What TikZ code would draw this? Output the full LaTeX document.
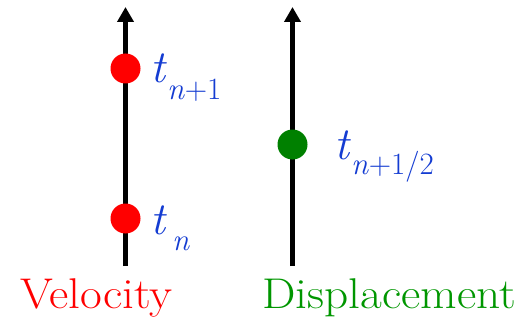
\documentclass[tikz,border=0pt]{standalone}
\usetikzlibrary{arrows.meta}
\definecolor{tblue}{RGB}{20,60,210}
\definecolor{dotred}{RGB}{255,0,0}
\definecolor{dotgreen}{RGB}{0,128,0}
\definecolor{labgreen}{RGB}{0,150,0}
\tikzset{
  axisline/.style={line width=5pt, -{Triangle[width=16pt,length=15pt]}},
  dot/.style={circle, inner sep=0pt, minimum size=30pt, fill=#1},
  tlab/.style={anchor=base west, inner sep=0pt, text=tblue, font=\fontsize{46}{50}\selectfont},
  caption/.style={anchor=base west, inner sep=0pt, font=\fontsize{43}{48}\selectfont}
}
\newcommand{\sublow}[2]{\raisebox{-#1}{\fontsize{31}{31}\selectfont #2}}
\begin{document}
\begin{tikzpicture}[x=1pt,y=-1pt]
\useasboundingbox (0,0) rectangle (528,321);
% axes
\coordinate (vb) at (125.5,266);
\coordinate (vt) at (125.5,7);
\coordinate (db) at (292.5,266);
\coordinate (dt) at (292.5,7);
\draw[axisline] (vb) -- (vt);
\draw[axisline] (db) -- (dt);
% dots
\node[dot=dotred] (v1) at (125.5,68.5) {};
\node[dot=dotred] (v0) at (125.5,218.5) {};
\node[dot=dotgreen] (dh) at (292.5,144.5) {};
% time labels
\node[tlab] (l1) at (150,83) {\textit{t}\sublow{17pt}{\textit{n}+1}};
\node[tlab] (l0) at (150,234) {\textit{t}\sublow{16pt}{\,\textit{n}}};
\node[tlab] (lh) at (334,159) {\textit{t}\sublow{16pt}{\textit{n}+1/2}};
% captions
\node[caption, text=dotred] (cv) at (20,308) {\scalebox{1.1}[1]{Velocity}};
\node[caption, text=labgreen] (cd) at (262,308) {\scalebox{1.1}[1]{Displacement}};
\end{tikzpicture}
\end{document}
